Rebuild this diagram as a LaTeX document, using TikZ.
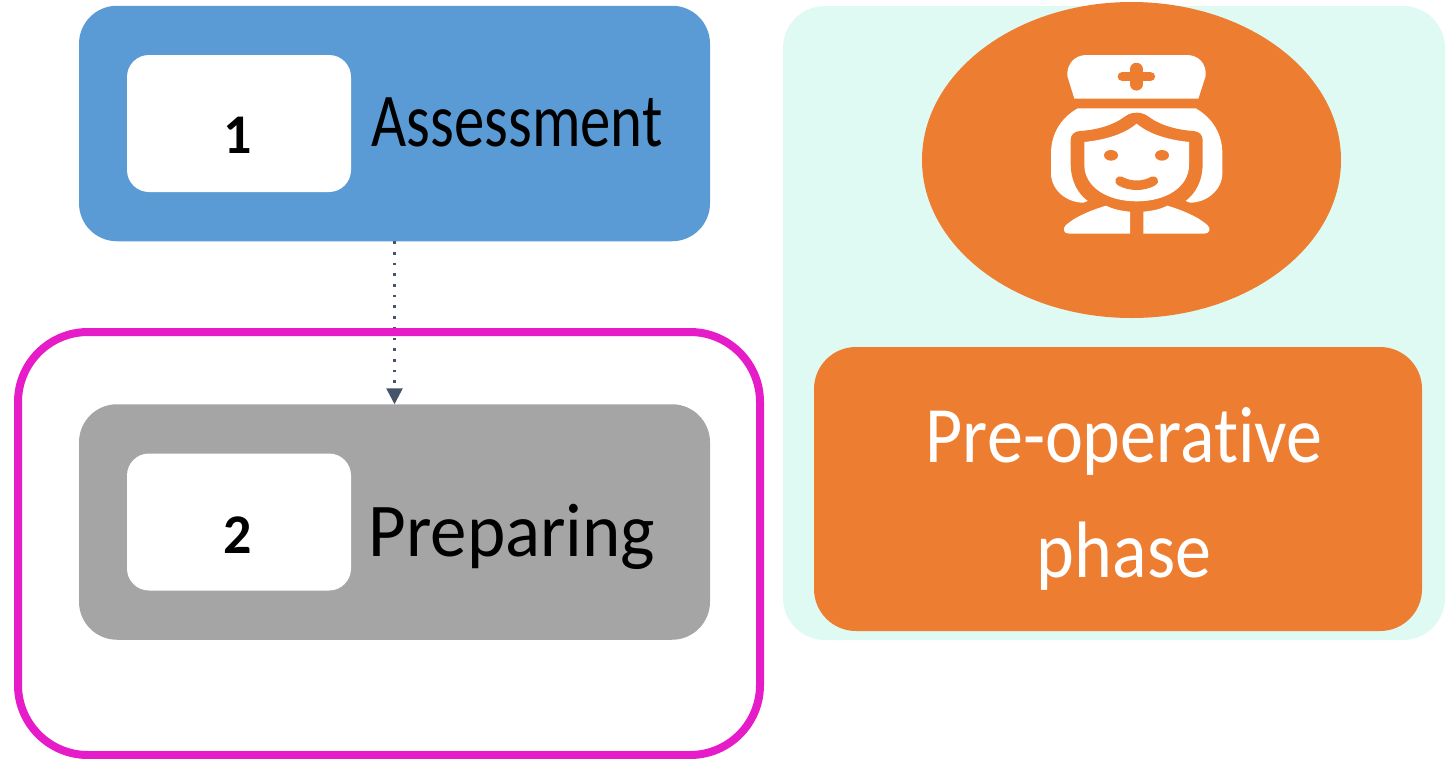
\documentclass[tikz,border=0pt]{standalone}
\usepackage{fontspec}
\setmainfont[Ligatures=NoCommon]{Carlito}
\usetikzlibrary{arrows.meta}
\definecolor{cblue}{HTML}{5B9BD5}
\definecolor{cgray}{HTML}{A5A5A5}
\definecolor{corange}{HTML}{ED7D31}
\definecolor{cmint}{HTML}{DFFAF3}
\definecolor{cmag}{HTML}{E61CC8}
\definecolor{cslate}{HTML}{44546A}
\tikzset{
  box/.style={rounded corners=38pt,minimum width=631pt,minimum height=235.5pt,inner sep=0pt,outer sep=0pt},
  numbox/.style={fill=white,rounded corners=22pt,minimum width=224pt,minimum height=137pt,inner sep=0pt,outer sep=0pt},
  lab/.style={inner sep=0pt,font=\fontsize{76}{76}\selectfont,transform shape,text=black},
  numlab/.style={inner sep=0pt,font=\bfseries\fontsize{56}{56}\selectfont,text=black},
  wlab/.style={inner sep=0pt,font=\fontsize{80}{115}\selectfont,xscale=.90,transform shape,text=white,align=center},
}
\begin{document}
\begin{tikzpicture}[x=1pt,y=-1pt]
\useasboundingbox (0,0) rectangle (1453,758);
% right panel
\node[fill=cmint,rounded corners=42pt,minimum width=662pt,minimum height=634pt,inner sep=0pt] (panel) at (1114,323) {};
\fill[corange] (1131.5,160) ellipse [x radius=209.5,y radius=158];
\node[fill=corange,rounded corners=42pt,minimum width=608pt,minimum height=284pt,inner sep=0pt] (phase) at (1118,489) {};
\node[wlab] (phaselab) at (1124,499) {Pre-operative\\phase};
% left boxes
\node[box,fill=cblue] (a) at (394.5,123.5) {};
\node[numbox] (an) at (239,123.5) {};
\node[numlab] (anl) at (238,135) {1};
\node[lab,xscale=.80,anchor=base] (al) at (517,146) {Assessment};
\node[box,fill=cgray] (p) at (394.5,522) {};
\node[numbox] (pn) at (239,522) {};
\node[numlab] (pnl) at (238,535) {2};
\node[lab,xscale=.96,anchor=base] (pl) at (512,556) {Preparing};
% connector
\draw[cslate,line width=2.6pt,dash pattern=on 2.6pt off 8.1pt,-{Triangle[length=16pt,width=16pt]}] (a.south) -- (p.north);
% frame
\node[draw=cmag,line width=8pt,rounded corners=70pt,minimum width=742pt,minimum height=423pt,inner sep=0pt] (frame) at (389,543.5) {};
% nurse icon
\begin{scope}[shift={(1030,40)},x=0.33333pt,y=-0.33333pt]
  % cap
  \fill[white] (133,176) -- (112,108) .. controls (110,70) and (135,45) .. (170,45) -- (470,45) .. controls (505,45) and (530,70) .. (527,108) -- (505,176) -- cycle;
  \draw[corange,line width=9.5pt,line cap=round] (277,110) -- (361,110);
  \draw[corange,line width=12.5pt,line cap=round] (319,87) -- (319,133);
  % hair
  \fill[white] (143,205) -- (497,205) .. controls (550,235) and (577,285) .. (577,340) -- (577,400) .. controls (577,450) and (530,488) .. (480,488) -- (455,478) -- (185,478) -- (160,488) .. controls (110,488) and (63,450) .. (63,400) -- (63,340) .. controls (63,285) and (90,235) .. (143,205) -- cycle;
  % face ring
  \fill[corange] (320,218) .. controls (300,218) and (290,226) .. (280,233) .. controls (250,255) and (200,270) .. (150,273) .. controls (132,274) and (122,285) .. (122,300) -- (122,370) .. controls (122,440) and (160,480) .. (195,495) -- (445,495) .. controls (480,480) and (518,440) .. (518,370) -- (518,300) .. controls (518,285) and (508,274) .. (490,273) .. controls (440,270) and (390,255) .. (360,233) .. controls (350,226) and (340,218) .. (320,218) -- cycle;
  % face
  \fill[white] (320,251) .. controls (280,285) and (220,300) .. (163,306) -- (163,375) .. controls (163,440) and (230,484) .. (320,484) .. controls (410,484) and (477,440) .. (477,375) -- (477,306) .. controls (420,300) and (360,285) .. (320,251) -- cycle;
  % eyes and mouth
  \fill[corange] (243,346) ellipse [x radius=21,y radius=16];
  \fill[corange] (396,346) ellipse [x radius=21,y radius=16];
  \draw[corange,line width=9.5pt,line cap=round] (270,423) .. controls (300,440) and (340,440) .. (370,423);
  % shoulders
  \fill[white] (228,497) .. controls (250,508) and (275,513) .. (300,515) -- (300,581) -- (118,581) .. controls (100,581) and (97,566) .. (107,556) .. controls (135,530) and (185,510) .. (228,497) -- cycle;
  \fill[white] (412,497) .. controls (390,508) and (365,513) .. (340,515) -- (340,581) -- (522,581) .. controls (540,581) and (543,566) .. (533,556) .. controls (505,530) and (455,510) .. (412,497) -- cycle;
\end{scope}
\end{tikzpicture}
\end{document}
